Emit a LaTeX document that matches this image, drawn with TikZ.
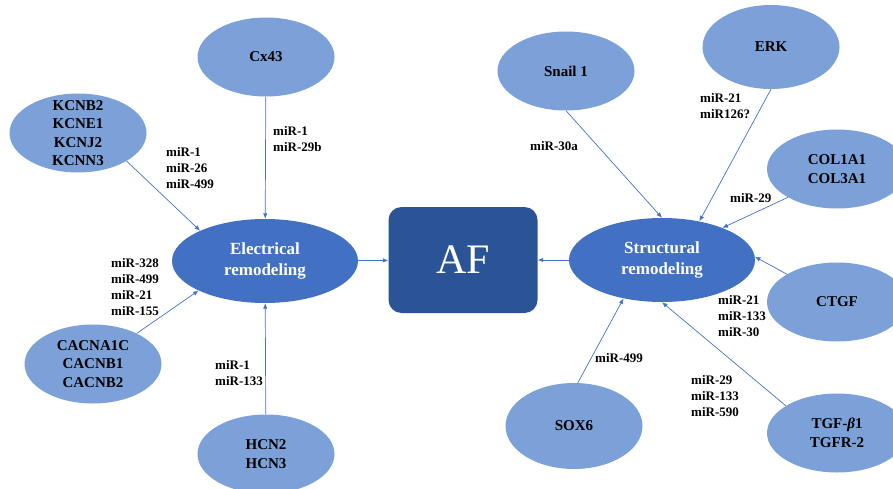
\documentclass[tikz,border=0pt]{standalone}
\usepackage{fontspec}
\setmainfont{Liberation Serif}
\usetikzlibrary{shapes.geometric, arrows.meta}

\definecolor{genefill}{RGB}{124,161,216}
\definecolor{remodfill}{RGB}{66,112,194}
\definecolor{affill}{RGB}{43,84,150}
\definecolor{linkcol}{RGB}{68,114,196}

\tikzset{
	gene/.style={ellipse, fill=genefill, inner sep=-15pt, minimum width=137pt, minimum height=79pt, align=center, font=\fontsize{15}{18.5}\selectfont\bfseries},
	remod/.style={ellipse, fill=remodfill, inner sep=-15pt, minimum width=186pt, minimum height=84pt, align=center, text=white, font=\fontsize{17}{20.5}\selectfont\bfseries},
	afbox/.style={rectangle, rounded corners=13pt, fill=affill, minimum width=149pt, minimum height=106pt, text=white, font=\fontsize{42}{42}\selectfont},
	mir/.style={anchor=west, align=left, inner sep=0pt, font=\fontsize{13}{16}\selectfont\bfseries},
	link/.style={draw=linkcol, line width=0.7pt, ->, >={Latex[length=5.5pt, width=4.5pt]}},
}

\begin{document}
\begin{tikzpicture}[x=1pt, y=-1pt]
	\useasboundingbox (0,0) rectangle (893,489);

	\node[afbox] (af) at (463,260) {AF};
	\node[remod] (er) at (265,261) {Electrical\\remodeling};
	\node[remod] (sr) at (662,260) {Structural\\remodeling};

	\node[gene] (cx) at (266,57) {Cx43};
	\node[gene] (kc) at (78,133) {KCNB2\\KCNE1\\KCNJ2\\KCNN3};
	\node[gene] (ca) at (93,364) {CACNA1C\\CACNB1\\CACNB2};
	\node[gene] (hc) at (266,454) {HCN2\\HCN3};

	\node[gene] (sn) at (566,71) {Snail 1};
	\node[gene, minimum height=84pt] (erk) at (771,47) {ERK};
	\node[gene, minimum width=140pt] (col) at (837,169) {COL1A1\\COL3A1};
	\node[gene, minimum width=140pt] (ct) at (837,302) {CTGF};
	\node[gene, minimum width=140pt] (tg) at (837,433) {TGF-\textit{β}1\\TGFR-2};
	\node[gene, minimum height=86pt] (sx) at (574,426) {SOX6};

	\node[mir] (l1) at (273,139) {miR-1\\miR-29b};
	\node[mir] (l2) at (166,168) {miR-1\\miR-26\\miR-499};
	\node[mir] (l3) at (111,287) {miR-328\\miR-499\\miR-21\\miR-155};
	\node[mir] (l4) at (215,373) {miR-1\\miR-133};
	\node[mir] (l5) at (530,146) {miR-30a};
	\node[mir] (l6) at (700,106) {miR-21\\miR126?};
	\node[mir] (l7) at (730,198) {miR-29};
	\node[mir] (l8) at (718,316) {miR-21\\miR-133\\miR-30};
	\node[mir] (l9) at (595,358) {miR-499};
	\node[mir] (l10) at (691,396) {miR-29\\miR-133\\miR-590};

	\path[every edge/.append style={link}]
	(cx) edge (er)
	(kc.-30) edge (er.155)
	(ca.35) edge (er.-156)
	(hc) edge (er)
	(er) edge (af)
	(sr) edge (af)
	(sn.south) edge (sr.north)
	(erk.south) edge (sr.46)
	(col.210) edge (sr.28)
	(ct.151) edge (sr.2)
	(tg.152) edge (sr.south)
	(sx.85) edge (sr.225);
\end{tikzpicture}
\end{document}
